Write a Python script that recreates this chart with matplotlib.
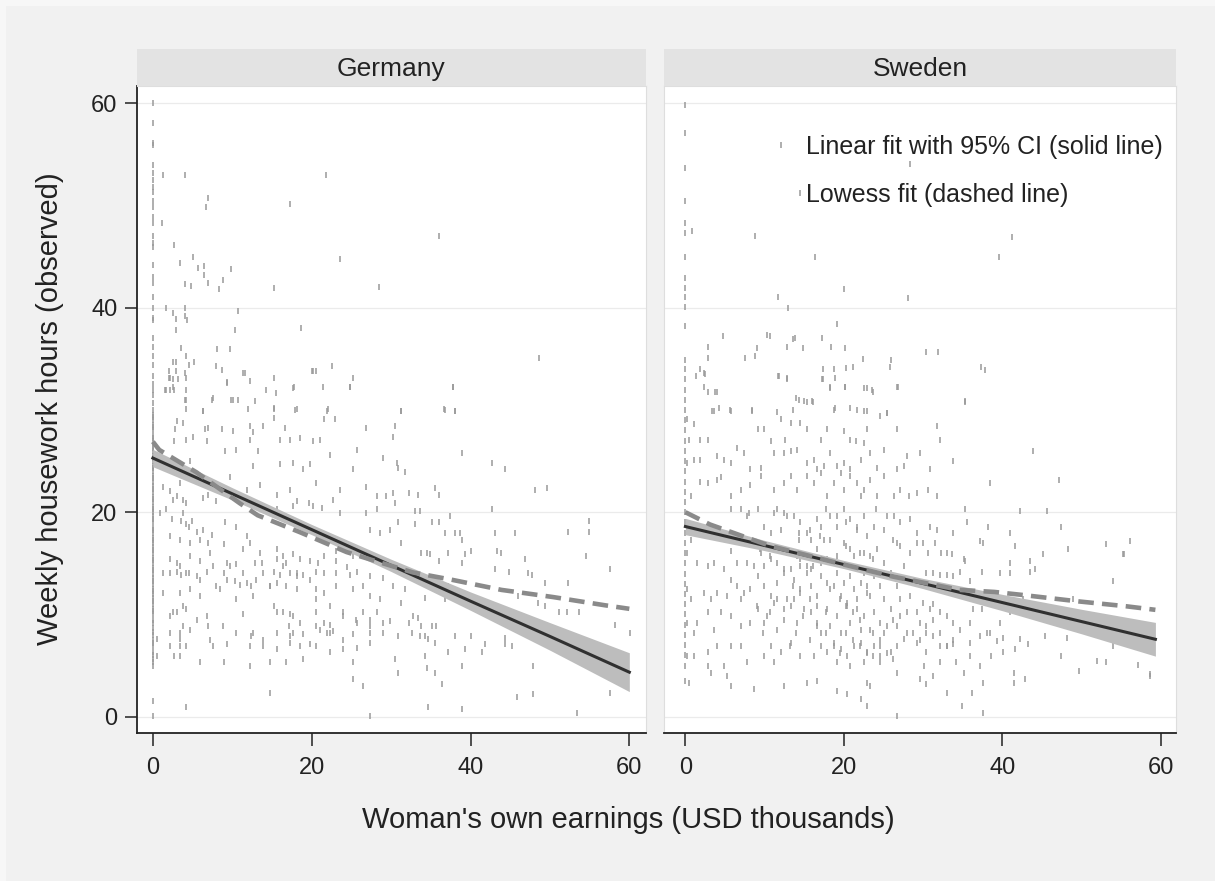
import numpy as np
import matplotlib

matplotlib.use("Agg")

import matplotlib.pyplot as plt
from matplotlib.patches import Rectangle

plt.rcParams["font.family"] = ["Liberation Sans", "DejaVu Sans"]

# ---- data (earnings in USD thousands, housework in hours/week) ----
panels = ["Germany", "Sweden"]
x_ticks = [0, 20, 40, 60]
y_ticks = [0, 20, 40, 60]

# observations stacked at zero earnings
ger_zero_y = [5.0, 5.6, 6.0, 6.9, 7.5, 8.0, 8.7, 9.2, 10.0, 10.5, 11.0, 11.6, 12.0,
              12.5, 13.0, 13.6, 14.0, 14.5, 15.0, 15.5, 16.0, 16.6, 17.0, 17.5, 18.0,
              18.5, 19.0, 19.6, 20.0, 20.5, 21.0, 21.5, 22.0, 22.6, 23.0, 23.5, 24.0,
              24.5, 25.0, 25.5, 26.0, 26.5, 27.0, 27.5, 28.0, 28.5, 29.0, 29.5, 30.0,
              30.7, 31.5, 32.0, 32.5, 33.3, 34.4, 35.3, 36.2, 38.8, 40.0, 41.1, 42.4,
              44.2, 45.9, 46.3, 47.0, 48.3, 48.9, 49.9, 50.4, 51.3, 51.8, 53.2, 54.0,
              55.9, 56.1, 58.1, 60.0, 0.1, 1.5,
              5.3, 6.3, 7.2, 8.3, 9.5, 10.3, 11.3, 12.3, 13.3, 14.3, 15.3, 16.3, 17.3,
              18.3, 19.3, 20.3, 21.3, 22.3, 23.3, 24.3, 25.3, 26.3, 27.3, 28.3, 29.3,
              37.0, 39.0, 43.0, 52.5]
swe_zero_y = [3.5, 5.0, 6.0, 7.0, 8.0, 9.0, 10.0, 11.0, 12.0, 13.0, 14.0, 15.0, 16.0,
              17.0, 18.0, 19.0, 20.0, 21.0, 22.0, 23.0, 24.0, 25.0, 26.0, 27.0, 28.0,
              29.0, 30.0, 31.0, 32.0, 33.0, 34.0, 34.9, 38.2, 40.1, 41.1, 41.9, 42.9,
              45.0, 47.3, 48.3, 50.4, 53.7, 57.1, 59.8]

ger_pts = [
    (1.3, 53.0), (4.0, 53.0), (21.8, 53.0), (6.9, 50.7), (6.7, 49.9), (17.3, 50.2),
    (1.1, 48.3), (2.6, 46.1), (36.0, 47.0), (3.4, 44.4), (5.0, 45.0), (5.7, 43.9),
    (6.5, 44.1), (6.5, 43.2), (9.9, 43.8), (23.6, 44.8), (4.0, 42.3), (4.8, 42.1),
    (6.9, 42.4), (8.3, 41.8), (8.8, 42.7), (15.3, 41.9), (28.5, 42.0), (1.6, 40.0),
    (2.5, 39.5), (4.0, 40.0), (4.0, 39.2), (10.7, 39.7), (2.9, 38.9), (4.3, 38.8),
    (2.9, 37.8), (10.3, 37.8), (18.6, 38.0), (3.6, 36.1), (4.2, 35.3), (4.6, 34.4),
    (5.2, 34.7), (8.1, 36.0), (9.7, 36.0), (48.6, 35.1),
    (2.5, 34.7), (2.9, 34.7), (7.9, 34.3), (8.7, 33.9), (11.6, 33.6), (12.2, 32.8),
    (15.2, 33.1), (20.2, 33.8), (20.5, 33.8), (22.5, 34.3), (25.2, 33.1), (24.8, 32.3),
    (37.8, 32.3), (9.3, 32.6), (14.2, 32.0), (15.5, 31.7), (17.8, 32.3), (21.4, 32.3),
    (2.0, 33.8), (2.9, 33.8), (4.0, 33.6), (4.2, 33.1), (2.0, 33.1), (2.5, 33.0),
    (3.2, 33.0), (1.5, 32.0), (2.1, 32.0), (2.5, 32.3), (4.2, 32.0), (7.4, 31.0),
    (9.9, 31.0), (10.7, 31.0), (12.8, 30.9), (4.1, 31.0), (4.2, 30.1), (6.3, 29.9),
    (12.0, 30.1), (15.2, 30.1), (18.1, 30.1), (22.1, 30.1), (31.3, 29.9), (36.7, 30.1),
    (38.0, 29.9),
    (2.1, 33.1), (4.2, 31.0), (9.3, 32.7), (11.4, 33.6), (17.7, 32.2), (20.0, 33.8),
    (24.8, 32.3), (1.7, 32.0), (2.6, 32.0),
    (6.3, 29.9), (7.6, 31.2), (10.1, 31.0), (15.2, 30.2), (17.9, 30.0), (21.9, 29.9),
    (3.0, 28.9), (3.8, 28.7), (2.8, 28.1), (6.6, 28.1), (7.0, 28.2), (8.7, 28.1),
    (10.1, 27.9), (12.2, 28.4), (12.6, 27.8), (13.9, 28.4), (15.2, 29.2), (16.6, 28.2),
    (21.5, 29.1), (22.9, 29.1), (26.9, 28.2), (30.3, 27.4),
    (2.6, 27.0), (4.2, 27.1), (5.1, 27.4), (6.8, 27.0), (9.1, 26.0), (10.5, 26.1),
    (12.2, 27.1), (13.3, 26.0), (16.0, 27.1), (17.3, 27.1), (18.5, 27.3), (20.2, 27.0),
    (21.0, 27.1), (22.3, 25.6), (25.7, 26.1), (29.0, 25.3), (4.7, 25.0), (12.6, 24.5),
    (16.0, 24.7), (17.7, 24.8), (19.8, 24.7), (18.9, 24.2), (25.2, 24.2), (30.7, 24.8),
    (3.4, 22.9), (2.1, 22.1), (3.0, 21.6), (3.8, 21.2), (4.2, 20.9), (6.3, 21.4),
    (7.0, 21.7), (8.0, 21.1), (9.7, 23.4), (11.8, 22.2), (13.5, 22.7), (15.6, 21.7),
    (17.3, 22.2), (18.1, 21.1), (20.6, 22.9), (22.7, 21.2), (23.6, 22.2), (26.9, 22.5),
    (28.2, 21.6), (29.4, 21.6), (30.3, 21.9),
    (0.9, 19.9), (1.7, 20.3), (2.4, 19.3), (3.6, 19.1), (4.2, 18.8), (4.9, 19.1),
    (5.5, 18.1), (6.3, 18.3), (7.4, 17.8), (9.1, 19.0), (10.5, 18.6), (11.8, 17.7),
    (15.6, 20.3), (17.7, 20.6), (19.6, 20.9), (20.2, 20.6), (21.3, 20.4), (23.6, 19.9),
    (26.9, 19.9), (28.2, 20.3), (27.3, 18.3), (28.6, 18.0), (29.9, 18.3),
    (2.1, 17.7), (3.4, 17.3), (4.7, 17.0), (7.0, 17.0), (8.9, 16.9), (11.4, 16.4),
    (12.2, 17.0), (13.5, 16.0), (15.6, 16.4), (16.4, 15.7), (17.7, 15.9), (21.5, 15.7),
    (23.1, 16.2), (25.2, 15.7), (26.5, 16.0), (2.1, 15.4), (3.0, 15.05), (4.7, 15.7),
    (5.9, 15.2), (7.6, 14.7), (9.3, 15.05), (10.5, 14.9), (12.9, 15.05), (13.7, 15.05),
    (15.6, 15.4), (16.8, 15.05), (18.5, 15.4), (19.8, 15.2), (20.8, 15.05), (23.1, 15.2),
    (24.4, 14.6),
    (1.3, 14.1), (2.1, 14.1), (3.0, 14.2), (3.6, 13.9), (4.2, 14.1), (5.5, 13.75),
    (6.8, 14.2), (8.9, 14.1), (9.3, 13.4), (10.3, 13.3), (11.0, 12.9), (11.8, 13.1),
    (12.4, 12.8), (13.9, 14.1), (15.2, 14.2), (16.0, 13.9), (17.3, 14.1), (18.1, 13.75),
    (18.9, 13.9), (20.6, 14.2), (21.5, 14.1), (23.1, 14.1), (24.8, 13.9), (25.7, 14.2),
    (27.3, 13.75), (29.0, 13.6), (30.3, 12.8), (3.4, 12.1), (4.7, 12.5), (5.9, 11.8),
    (8.4, 12.5), (10.5, 11.5), (12.6, 11.8), (14.7, 12.8), (15.6, 13.1), (16.8, 12.8),
    (18.1, 12.5), (20.6, 12.5), (21.5, 12.1), (23.1, 12.8), (25.2, 12.5), (26.5, 12.8),
    (27.3, 11.8), (28.6, 11.5),
    (2.1, 9.85), (3.0, 10.2), (3.8, 8.9), (4.2, 10.5), (6.8, 9.85), (7.0, 8.9),
    (11.4, 10.0), (15.2, 10.8), (15.6, 10.2), (16.4, 10.2), (17.3, 10.0), (17.7, 9.85),
    (18.5, 9.2), (20.6, 10.2), (21.5, 9.2), (22.3, 9.0), (24.0, 9.85), (25.7, 9.2),
    (26.5, 10.2), (27.3, 9.5), (28.2, 10.2), (29.0, 9.2), (29.9, 9.35), (3.4, 8.2),
    (4.7, 8.5), (12.6, 8.2), (17.3, 7.9), (17.7, 8.2), (18.9, 8.05), (21.0, 8.5),
    (21.9, 8.2), (22.7, 8.4), (25.2, 8.05), (27.3, 8.2),
    (0.5, 7.6), (2.1, 6.9), (3.4, 7.6), (4.2, 6.9), (7.6, 6.9), (9.3, 7.1),
    (12.4, 7.9), (13.9, 6.9), (15.6, 6.6), (17.3, 7.2), (18.5, 6.9), (19.8, 7.1),
    (20.6, 6.9), (22.3, 6.3), (24.0, 6.6), (25.7, 6.75), (27.3, 7.2), (0.5, 5.9),
    (2.6, 5.9), (3.4, 5.9), (5.9, 5.3), (8.9, 5.3), (12.2, 5.0), (14.7, 5.3),
    (16.8, 5.3), (18.9, 5.6), (25.2, 5.3),
    (25.2, 3.65), (26.5, 3.0), (14.7, 2.35), (4.2, 0.9), (27.3, 0.1),
    (1.26, 22.5), (2.5, 21.2), (3.8, 19.9), (4.6, 18.6), (5.9, 17.3), (7.15, 16.0),
    (3.37, 14.7), (4.6, 14.1), (5.9, 13.4), (7.99, 12.8), (9.7, 14.7), (11.4, 14.1),
    (13.0, 13.4), (14.7, 12.8), (16.4, 14.7), (18.1, 14.1), (19.8, 13.4), (20.6, 11.5),
    (22.3, 10.8), (24.0, 10.2), (25.6, 9.5), (27.3, 8.9), (29.0, 8.2), (20.6, 8.9),
    (22.3, 8.2), (24.0, 7.5), (17.2, 8.9), (15.6, 8.2), (13.9, 7.5), (12.2, 6.9),
    (10.5, 8.2), (8.8, 8.9), (7.15, 7.5), (5.5, 9.5), (3.8, 10.8), (2.5, 10.2),
    (1.26, 12.1), (2.1, 8.2), (3.37, 6.9),
    (37.8, 32.3), (31.3, 29.9), (36.8, 30.0), (38.0, 29.9), (30.5, 28.4), (38.9, 25.8),
    (42.7, 24.8), (44.3, 24.2), (48.1, 22.2), (49.6, 22.4), (30.9, 24.3), (31.7, 23.9),
    (35.5, 22.4), (36.0, 21.7), (33.4, 21.7), (32.2, 21.9), (30.5, 20.9), (33.0, 20.1),
    (33.6, 20.1), (42.7, 20.3), (37.4, 19.6), (54.9, 19.1), (52.3, 18.1), (54.9, 18.1),
    (30.9, 19.0), (33.0, 18.8), (35.1, 19.0), (36.0, 19.0), (36.8, 18.0), (38.0, 18.0),
    (38.7, 18.0), (38.9, 17.3), (43.1, 18.0), (45.6, 18.0), (31.3, 17.0), (33.8, 16.0),
    (34.5, 16.0), (34.9, 15.9), (37.2, 16.0), (39.3, 15.9), (40.1, 16.2), (43.3, 16.2),
    (43.9, 16.0), (46.9, 15.4), (54.6, 15.7), (36.0, 15.2), (38.9, 15.05), (43.1, 14.4),
    (44.8, 14.2), (47.3, 14.1), (47.7, 13.9), (52.3, 13.1), (57.6, 14.4), (49.4, 13.1),
    (37.2, 12.8), (31.7, 12.5), (31.3, 11.15), (34.3, 11.6), (36.8, 11.5), (40.1, 11.15),
    (46.0, 11.8), (48.5, 11.15), (49.4, 10.8), (51.1, 10.2), (52.1, 10.2), (53.6, 10.2),
    (58.2, 9.0), (60.1, 8.2), (32.2, 9.2), (32.8, 9.85), (33.4, 9.7), (33.8, 8.9),
    (35.1, 8.9), (35.7, 8.9), (32.6, 8.2), (33.6, 7.9), (34.3, 7.9), (34.7, 7.6),
    (30.9, 7.9), (35.5, 7.2), (37.2, 6.3), (38.0, 7.9), (39.3, 6.6), (40.1, 7.9),
    (41.4, 6.3), (41.8, 7.1), (44.3, 7.7), (44.3, 7.1), (45.2, 6.9), (34.3, 5.9),
    (30.5, 5.6), (34.5, 4.8), (35.5, 4.3), (38.9, 5.0), (30.9, 4.3), (36.4, 3.2),
    (47.9, 5.0), (45.8, 1.9), (47.9, 2.2), (57.6, 2.35), (34.7, 0.9), (38.9, 0.7),
    (53.4, 0.4),
]

swe_pts = [
    (12.1, 55.9), (28.3, 54.1), (14.5, 51.2), (8.8, 47.0), (41.2, 46.9), (16.3, 45.0),
    (39.6, 45.0), (20.0, 41.8), (11.7, 41.1), (28.1, 41.0), (13.0, 40.0), (19.1, 38.4),
    (0.8, 47.5), (4.8, 37.2), (10.3, 37.3), (10.7, 37.2), (13.8, 37.0), (13.6, 36.9),
    (17.2, 37.0), (2.9, 36.2), (9.0, 36.1), (12.8, 36.2), (14.9, 36.1), (18.4, 36.2),
    (20.1, 36.1), (30.4, 35.7), (31.9, 35.7), (2.9, 35.1), (7.5, 35.1), (8.8, 35.3),
    (22.4, 35.0), (26.0, 34.9), (1.85, 34.0), (2.5, 33.5), (11.7, 33.3), (12.8, 33.1),
    (17.4, 34.0), (18.7, 34.0), (20.3, 34.1), (21.2, 34.2), (25.8, 34.2), (37.3, 34.2),
    (17.2, 33.0), (18.9, 33.1), (1.35, 33.3), (2.3, 32.3), (3.7, 31.8), (18.2, 32.2),
    (20.1, 32.3), (22.9, 32.2), (23.7, 31.8), (26.8, 32.3), (14.0, 31.2), (15.3, 30.8),
    (16.1, 30.8), (35.3, 30.8), (3.3, 29.9), (4.2, 30.2), (5.6, 30.0), (8.4, 29.9),
    (11.5, 29.8), (13.6, 30.0), (18.9, 30.2), (20.8, 30.2), (22.9, 29.9), (25.4, 29.7),
    (2.35, 33.6), (11.8, 33.3), (12.85, 33.0), (17.3, 33.0), (18.3, 32.3), (20.2, 32.3),
    (22.5, 32.2), (23.6, 32.0), (26.7, 32.3), (2.8, 31.8), (4.0, 31.8), (14.3, 31.0),
    (14.95, 30.9), (16.0, 30.9),
    (0.25, 29.1), (1.1, 28.6), (0.5, 27.1), (1.9, 27.1), (2.8, 27.1), (3.6, 29.9),
    (5.7, 29.9), (8.4, 30.0), (9.9, 28.1), (12.0, 29.1), (13.3, 28.7), (14.5, 28.7),
    (15.4, 28.1), (17.05, 27.1), (17.9, 28.1), (18.7, 30.0), (20.0, 27.9), (20.8, 27.1),
    (21.7, 30.0), (22.5, 29.9), (22.9, 28.1), (24.6, 29.4), (25.45, 29.7), (26.7, 28.1),
    (9.1, 28.1), (10.75, 27.0), (12.6, 27.1),
    (0.25, 24.8), (1.1, 25.15), (1.9, 25.15), (4.0, 25.5), (4.9, 25.15), (5.7, 24.8),
    (7.4, 25.8), (8.2, 24.2), (9.5, 24.3), (11.2, 25.8), (12.4, 25.8), (13.3, 26.0),
    (14.1, 26.1), (15.4, 24.8), (16.2, 25.15), (16.6, 24.2), (17.5, 24.5), (18.3, 25.8),
    (19.15, 24.5), (20.0, 24.8), (20.8, 24.2), (22.1, 25.15), (23.35, 25.8), (24.2, 24.3),
    (25.0, 26.1), (26.7, 24.2), (27.55, 24.5), (28.0, 25.5), (29.65, 25.8), (22.5, 26.8),
    (21.5, 26.95), (6.55, 26.3),
    (0.7, 21.6), (1.9, 23.0), (2.8, 22.9), (4.0, 23.2), (4.45, 23.4), (5.7, 21.6),
    (7.0, 22.2), (8.2, 22.7), (9.5, 23.5), (11.2, 22.2), (12.4, 22.9), (13.3, 23.5),
    (14.1, 22.2), (15.4, 23.5), (16.2, 22.9), (17.05, 23.85), (17.9, 21.6), (18.7, 22.9),
    (19.6, 23.85), (20.0, 22.2), (20.8, 23.5), (21.7, 22.9), (22.1, 21.6), (22.5, 22.2),
    (23.35, 23.2), (24.2, 21.6), (25.0, 23.5), (26.3, 21.6), (27.1, 22.2), (28.2, 21.6),
    (29.2, 21.9),
    (0.25, 18.6), (0.7, 17.3), (5.7, 20.3), (7.0, 20.3), (7.8, 19.6), (9.1, 20.3),
    (9.9, 18.6), (11.2, 19.9), (12.4, 19.9), (13.7, 19.6), (14.3, 18.0), (14.3, 17.3),
    (15.4, 18.0), (16.6, 19.3), (17.05, 18.6), (18.3, 19.6), (19.15, 18.6), (20.0, 20.3),
    (20.8, 19.3), (21.7, 18.6), (22.5, 19.6), (23.8, 18.6), (25.0, 18.3), (26.3, 19.6),
    (27.1, 19.0), (28.4, 19.3), (29.2, 18.0), (12.0, 18.3), (10.75, 18.0), (8.0, 19.9),
    (0.25, 16.0), (1.5, 15.05), (2.8, 14.7), (3.6, 15.05), (4.9, 14.4), (5.7, 16.2),
    (6.55, 15.05), (7.8, 15.05), (8.65, 14.7), (9.9, 14.7), (10.75, 15.4), (11.6, 15.05),
    (12.4, 14.4), (13.3, 14.4), (14.1, 15.7), (14.5, 14.7), (15.4, 14.7), (15.8, 14.4),
    (16.6, 16.4), (17.05, 15.05), (17.9, 15.4), (18.3, 17.3), (19.15, 15.7), (20.0, 17.0),
    (20.8, 16.4), (21.25, 15.7), (22.5, 16.0), (23.35, 15.7), (24.2, 16.4), (25.0, 15.05),
    (26.7, 17.0), (27.55, 14.7), (28.4, 16.0), (29.2, 17.0), (7.8, 17.0), (9.5, 16.0),
    (15.8, 17.3), (17.5, 17.3),
    (0.25, 12.5), (0.7, 11.5), (2.35, 12.1), (3.2, 11.5), (4.0, 12.1), (5.7, 13.4),
    (6.55, 12.8), (7.4, 12.1), (8.2, 12.5), (9.1, 13.75), (9.9, 12.8), (10.75, 11.8),
    (11.6, 13.1), (12.4, 14.1), (12.85, 11.5), (13.7, 13.4), (14.5, 12.5), (15.4, 14.1),
    (15.8, 12.8), (16.6, 11.8), (17.05, 13.75), (17.9, 13.1), (18.3, 12.5), (19.15, 14.1),
    (19.6, 11.8), (20.0, 13.1), (20.8, 13.75), (21.25, 12.5), (21.7, 11.5), (22.5, 14.1),
    (22.9, 12.8), (23.35, 11.8), (23.8, 13.75), (24.6, 12.8), (25.0, 11.5), (25.9, 14.1),
    (26.7, 12.8), (27.55, 13.4), (28.4, 11.8), (29.2, 13.1), (5.3, 11.8), (7.0, 11.5),
    (11.2, 11.15), (13.7, 11.5), (20.4, 11.15), (22.1, 13.1),
    (0.25, 9.2), (1.1, 8.2), (1.5, 9.2), (2.8, 10.2), (3.6, 8.5), (4.45, 10.2),
    (5.7, 9.85), (7.0, 8.9), (8.2, 9.2), (9.1, 10.5), (9.9, 9.2), (10.3, 9.85),
    (11.6, 8.5), (12.4, 10.5), (13.3, 10.8), (14.1, 9.2), (14.95, 10.5), (15.8, 10.2),
    (16.6, 9.2), (17.05, 8.2), (17.9, 10.5), (18.3, 8.9), (19.15, 9.85), (19.6, 8.2),
    (20.4, 10.8), (20.8, 9.2), (21.7, 10.5), (22.1, 8.5), (22.5, 9.85), (23.35, 8.5),
    (23.8, 10.2), (24.6, 9.2), (25.0, 8.2), (25.9, 10.5), (26.7, 8.9), (27.1, 9.85),
    (28.0, 8.2), (29.2, 10.2), (29.65, 9.2),
    (0.25, 5.9), (1.1, 5.9), (2.8, 6.3), (4.0, 6.9), (5.7, 6.9), (7.0, 6.9),
    (9.9, 5.9), (10.75, 6.9), (12.0, 6.3), (13.3, 7.2), (14.5, 5.9), (16.2, 5.9),
    (17.05, 6.9), (17.9, 6.3), (18.7, 7.2), (19.6, 6.6), (20.4, 5.9), (21.25, 6.9),
    (22.1, 7.2), (22.9, 6.3), (23.8, 6.9), (24.6, 5.9), (25.9, 6.3), (26.7, 6.9),
    (27.55, 7.6), (29.2, 7.2), (2.8, 5.0), (4.9, 5.0), (7.8, 5.3), (11.2, 5.3),
    (19.15, 5.3), (20.8, 5.0), (22.5, 5.3), (24.6, 5.3), (26.7, 4.3), (30.1, 5.0),
    (0.5, 3.3), (3.2, 4.3), (5.3, 4.0), (5.7, 3.0), (8.65, 2.7), (12.4, 3.0),
    (15.4, 3.3), (16.6, 3.5), (19.15, 2.5), (20.4, 2.2), (22.1, 1.7), (22.9, 3.3),
    (23.35, 3.0), (22.9, 1.05), (26.7, 0.1),
    (13.6, 12.8), (14.5, 12.1), (15.7, 11.5), (16.6, 10.8), (17.8, 10.2), (18.7, 12.8),
    (19.5, 11.5), (20.3, 10.8), (21.2, 10.2), (22.0, 9.5), (22.9, 12.1), (23.7, 8.2),
    (24.5, 7.5), (25.4, 8.9), (26.2, 9.5), (27.1, 11.5), (27.9, 10.2), (28.7, 8.2),
    (29.6, 7.5), (30.4, 8.9), (31.3, 9.5), (32.1, 8.2), (33.0, 6.9), (33.8, 7.5),
    (17.8, 8.2), (18.7, 6.9), (19.5, 6.2), (20.3, 8.2), (21.2, 7.5), (22.0, 6.9),
    (22.9, 6.2), (23.7, 5.9), (24.5, 6.9), (25.4, 6.2), (26.2, 5.6), (16.6, 8.9),
    (15.7, 7.5), (14.9, 9.8), (14.0, 8.2), (13.2, 6.9), (12.4, 9.5), (11.5, 11.5),
    (10.7, 10.2), (9.8, 8.2), (9.0, 10.8),
    (11.5, 20.3), (12.8, 19.6), (14.5, 19.0), (15.7, 18.3), (17.0, 17.7), (17.8, 20.3),
    (19.1, 19.6), (20.3, 19.0), (21.6, 18.3), (22.9, 17.7), (24.1, 20.3), (25.4, 19.6),
    (26.2, 17.3), (27.1, 16.7), (20.3, 16.7), (22.0, 16.0), (23.7, 15.4), (12.8, 16.0),
    (14.5, 15.4), (16.1, 14.7), (9.4, 16.4), (10.7, 15.7),
    (37.8, 33.95), (35.3, 30.9), (31.7, 28.4), (32.1, 27.1), (33.8, 25.0), (30.9, 24.2),
    (30.65, 22.2), (31.7, 21.6), (38.4, 22.9), (43.9, 26.0), (47.2, 23.2), (35.3, 20.3),
    (42.2, 20.1), (45.6, 20.1), (30.9, 18.6), (31.7, 18.3), (33.8, 18.0), (35.5, 19.0),
    (38.2, 18.6), (40.9, 18.0), (47.45, 18.6), (30.0, 17.0), (31.5, 17.0), (37.2, 17.2),
    (37.6, 17.0), (41.6, 16.7), (53.1, 16.85), (56.1, 17.2), (30.65, 16.0), (32.3, 16.0),
    (33.0, 16.0), (33.6, 15.9), (35.1, 15.4), (35.3, 15.2), (40.9, 15.05), (43.5, 15.2),
    (45.1, 15.9), (48.3, 16.4), (55.4, 15.9), (55.2, 15.9), (30.4, 14.1), (31.3, 14.1),
    (32.1, 13.9), (33.0, 13.9), (33.8, 13.75), (34.6, 14.2), (35.9, 13.3), (37.4, 14.2),
    (39.7, 14.1), (40.9, 14.1), (43.5, 14.2), (44.1, 14.4), (54.0, 13.3), (30.0, 11.15),
    (30.9, 10.5), (31.3, 11.0), (32.1, 10.2), (33.0, 9.85), (33.8, 9.2), (35.9, 9.2),
    (36.3, 10.5), (37.4, 10.5), (38.0, 8.2), (38.4, 8.2), (39.7, 9.2), (40.9, 10.2),
    (42.6, 11.5), (48.9, 11.5), (30.4, 8.2), (31.3, 7.9), (32.1, 6.9), (33.0, 6.9),
    (33.8, 7.1), (34.6, 8.5), (35.9, 7.2), (37.2, 7.9), (39.3, 7.4), (40.1, 7.7),
    (42.2, 7.6), (43.25, 7.1), (45.35, 7.9), (48.1, 7.7), (54.0, 6.9), (30.4, 6.3),
    (32.1, 5.3), (34.2, 5.3), (35.1, 4.3), (35.9, 5.9), (37.2, 5.0), (38.6, 5.9),
    (40.1, 6.3), (41.6, 6.6), (47.45, 5.9), (51.9, 5.45), (53.1, 5.3), (57.1, 5.1),
    (58.6, 4.2), (58.6, 4.0), (29.6, 3.65), (30.4, 3.2), (31.3, 4.0), (33.0, 2.35),
    (37.6, 3.3), (41.4, 4.3), (41.4, 3.3), (42.8, 3.65), (49.6, 4.5), (36.1, 2.35),
    (34.85, 1.05), (37.6, 0.4),
]

# linear fit with 95% CI, evaluated at a few earnings levels
ger_ci_x = [0, 10, 20, 30, 40, 50, 60]
ger_fit = [25.3, 21.8, 18.3, 14.8, 11.3, 7.85, 4.35]
ger_ci_lo = [24.45, 21.2, 17.8, 14.2, 10.4, 6.5, 2.45]
ger_ci_hi = [26.15, 22.4, 18.8, 15.4, 12.2, 9.2, 6.25]

swe_ci_x = [0, 10, 20, 30, 40, 50, 59.3]
swe_fit = [18.6, 16.74, 14.88, 13.02, 11.16, 9.3, 7.57]
swe_ci_lo = [17.8, 16.24, 14.48, 12.52, 10.36, 8.1, 5.92]
swe_ci_hi = [19.4, 17.24, 15.28, 13.52, 11.96, 10.5, 9.22]

# lowess smooth
ger_low_x = [0, 0.8, 5.5, 10.9, 13.2, 18.5, 24.4, 27.7, 32.8, 37.6, 43.9, 50.4, 56.9, 60]
ger_low_y = [26.9, 26.1, 23.9, 20.9, 19.7, 18.05, 16.1, 15.3, 14.1, 13.4, 12.4, 11.7, 10.9, 10.55]
swe_low_x = [0, 3.1, 10.7, 19.1, 26.2, 34.6, 39.0, 42.6, 49.3, 55.6, 59.3]
swe_low_y = [20.0, 18.8, 16.7, 15.05, 13.7, 12.4, 12.2, 11.9, 11.3, 10.8, 10.45]

legend_lines = ["Linear fit with 95% CI (solid line)", "Lowess fit (dashed line)"]

# ---- figure ----
W, H = 1215, 881
fig = plt.figure(figsize=(W / 100, H / 100), dpi=100, facecolor="#f7f7f7")
fig.patches.append(Rectangle((6 / W, 0), 1, 1 - 6 / H, transform=fig.transFigure,
                             facecolor="#f1f1f1", edgecolor="none", zorder=-10))


def px_rect(x0, y0, x1, y1):
    return [x0 / W, 1 - y1 / H, (x1 - x0) / W, (y1 - y0) / H]


panel_px = [(137, 646), (664, 1176)]
xlims = [(-2.0, 62.1), (-2.7, 61.9)]
data = [
    (ger_zero_y, ger_pts, ger_ci_x, ger_fit, ger_ci_lo, ger_ci_hi, ger_low_x, ger_low_y),
    (swe_zero_y, swe_pts, swe_ci_x, swe_fit, swe_ci_lo, swe_ci_hi, swe_low_x, swe_low_y),
]

for i, name in enumerate(panels):
    x0, x1 = panel_px[i]
    zero_y, pts, ci_x, fit, lo, hi, lx, ly = data[i]

    ax = fig.add_axes(px_rect(x0, 86, x1, 733))
    ax.set_facecolor("white")

    for g in y_ticks:
        ax.axhline(g, color="#ebebeb", lw=0.9, zorder=0)

    px, py = zip(*pts)
    ax.plot(list(px) + [0.0] * len(zero_y), list(py) + zero_y, ls="none",
            marker="|", ms=3.8, mew=1.1, color="#999999", zorder=1)

    ax.fill_between(ci_x, lo, hi, color="#bdbdbd", lw=0, zorder=2)
    ax.plot(ci_x, fit, color="#303030", lw=2.2, zorder=3)
    ax.plot(lx, ly, color="#8a8a8a", lw=3.3, dashes=(3.4, 1.8),
            solid_capstyle="butt", zorder=4)

    ax.set_xlim(*xlims[i])
    ax.set_ylim(-1.6, 61.7)
    ax.set_xticks(x_ticks)
    ax.set_xticklabels([str(t) for t in x_ticks], fontsize=17, color="#222222")
    ax.tick_params(axis="x", length=9, width=1.1, pad=8, color="#222222")

    for side in ["top", "right"]:
        ax.spines[side].set_color("#dedede")
        ax.spines[side].set_linewidth(0.8)
    ax.spines["bottom"].set_color("#222222")
    ax.spines["bottom"].set_linewidth(1.3)

    if i == 0:
        ax.set_yticks(y_ticks)
        ax.set_yticklabels([str(t) for t in y_ticks], fontsize=17, color="#222222")
        ax.tick_params(axis="y", length=9, width=1.1, pad=5, color="#222222")
        ax.spines["left"].set_color("#222222")
        ax.spines["left"].set_linewidth(1.3)
    else:
        ax.set_yticks([])
        ax.spines["left"].set_color("#dedede")
        ax.spines["left"].set_linewidth(0.8)

    # panel header strip
    sx = fig.add_axes(px_rect(x0, 49, x1, 86))
    sx.set_facecolor("#e3e3e3")
    sx.set_xticks([])
    sx.set_yticks([])
    for s in sx.spines.values():
        s.set_visible(False)
    sx.text(0.5, 0.45, name, ha="center", va="center", fontsize=19, color="#222222",
            transform=sx.transAxes)

# legend text inside the right panel
fig.text(806 / W, 1 - 147 / H, legend_lines[0], ha="left", va="center",
         fontsize=18, color="#222222")
fig.text(806 / W, 1 - 195 / H, legend_lines[1], ha="left", va="center",
         fontsize=18, color="#222222")

fig.text(628 / W, 1 - 820 / H, "Woman's own earnings (USD thousands)",
         ha="center", va="center", fontsize=21, color="#222222")
fig.text(50 / W, 1 - 409 / H, "Weekly housework hours (observed)", rotation=90,
         ha="center", va="center", fontsize=21, color="#222222")

fig.savefig("out.png", dpi=100, facecolor=fig.get_facecolor())
